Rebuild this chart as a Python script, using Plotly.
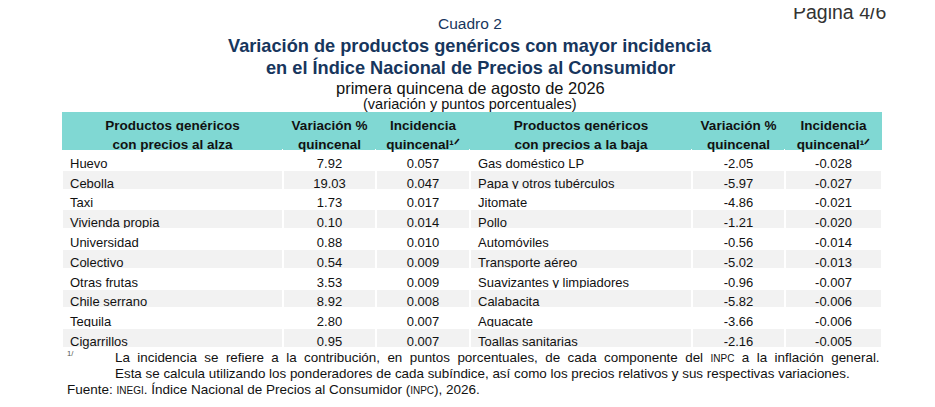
import plotly.graph_objects as go

# Datos del cuadro
alza_productos = ["Huevo", "Cebolla", "Taxi", "Vivienda propia", "Universidad",
                  "Colectivo", "Otras frutas", "Chile serrano", "Tequila", "Cigarrillos"]
alza_variacion = [7.92, 19.03, 1.73, 0.10, 0.88, 0.54, 3.53, 8.92, 2.80, 0.95]
alza_incidencia = [0.057, 0.047, 0.017, 0.014, 0.010, 0.009, 0.009, 0.008, 0.007, 0.007]

baja_productos = ["Gas doméstico LP", "Papa y otros tubérculos",
                  "Jitomate", "Pollo", "Automóviles", "Transporte aéreo",
                  "Suavizantes y limpiadores", "Calabacita", "Aguacate", "Toallas sanitarias"]
baja_variacion = [-2.05, -5.97, -4.86, -1.21, -0.56, -5.02, -0.96, -5.82, -3.66, -2.16]
baja_incidencia = [-0.028, -0.027, -0.021, -0.020, -0.014, -0.013, -0.007, -0.006, -0.006, -0.005]

# encabezado en dos renglones
encabezados = [["Productos genéricos", "con precios al alza"],
               ["Variación %", "quincenal"],
               ["Incidencia", "quincenal¹ᐟ"],
               ["Productos genéricos", "con precios a la baja"],
               ["Variación %", "quincenal"],
               ["Incidencia", "quincenal¹ᐟ"]]
# espacios no separables para que plotly no parta el texto
encabezados = [[t.replace(" ", "\u00a0") for t in col] for col in encabezados]

W, H = 935, 407
OFF = 8  # margen del body en la página
azul = "#17365D"
fuente = "Liberation Sans, Arial, sans-serif"

colores_fila = ["#FFFFFF" if i % 2 == 0 else "#F2F2F2" for i in range(len(alza_productos))]

fig = go.Figure(go.Table(
    domain=dict(x=[(62 - OFF) / W, (882 - OFF) / W], y=[0, 1 - (112 - OFF) / H]),
    columnwidth=[221, 93, 94, 222, 93, 97],
    header=dict(
        values=encabezados,
        fill_color="#80D8D3",
        line=dict(color="#80D8D3", width=0),
        align="center",
        height=19,
        font=dict(family=fuente, size=13.5, color="#111111", weight="bold"),
    ),
    cells=dict(
        values=[alza_productos,
                [f"{v:.2f}" for v in alza_variacion],
                [f"{v:.3f}" for v in alza_incidencia],
                baja_productos,
                [f"{v:.2f}" for v in baja_variacion],
                [f"{v:.3f}" for v in baja_incidencia]],
        fill_color=[colores_fila] * 6,
        line=dict(color="white", width=2),
        align=["left", "center", "center", "left", "center", "center"],
        height=19.8,
        font=dict(family=fuente, size=13, color="#111111"),
    ),
))


def texto(t, x, y, size, color="#111111", xanchor="center"):
    fig.add_annotation(text=t, x=(x - OFF) / W, y=1 - (y - OFF) / H, xref="paper", yref="paper",
                       showarrow=False, xanchor=xanchor, yanchor="middle",
                       font=dict(family=fuente, size=size, color=color))


texto("Página 4/6", 888, 12, 19.5, color="#333333", xanchor="right")
texto("Cuadro 2", 470, 24, 15.5, color=azul)
texto("<b>Variación de productos genéricos con mayor incidencia</b>", 470, 46, 18.2, color=azul)
texto("<b>en el Índice Nacional de Precios al Consumidor</b>", 470, 67, 18.2, color=azul)
texto("primera quincena de agosto de 2026", 470, 88, 16.5)
texto("(variación y puntos porcentuales)", 470, 104, 14.5)

# primer renglón de la nota justificado (espacio extra entre palabras)
nota1 = ("La incidencia se refiere a la contribución, en puntos porcentuales, de cada componente del "
         "<span style='font-size:10px'>INPC</span> a la inflación general.")
nota1 = nota1.replace("del <", "del\u00a0\u00a0<").replace("n, e", "n,\u00a0\u00a0e")
nota1 = " \u00a0".join(nota1.split(" ")).replace("span \u00a0style", "span style")

texto("<sup>1/</sup>", 65, 353, 11, color="#555555", xanchor="left")
texto(nota1, 113, 357, 13.4, xanchor="left")
texto("Esta se calcula utilizando los ponderadores de cada subíndice, así como los precios relativos "
      "y sus respectivas variaciones.", 113, 373, 13.4, xanchor="left")
texto("Fuente: <span style='font-size:10px'>INEGI</span>. Índice Nacional de Precios al Consumidor "
      "(<span style='font-size:10px'>INPC</span>), 2026.", 65, 389, 13.5, xanchor="left")

fig.update_layout(width=W, height=H, margin=dict(l=0, r=0, t=0, b=0),
                  paper_bgcolor="white", plot_bgcolor="white")

fig.write_html("out.html")
